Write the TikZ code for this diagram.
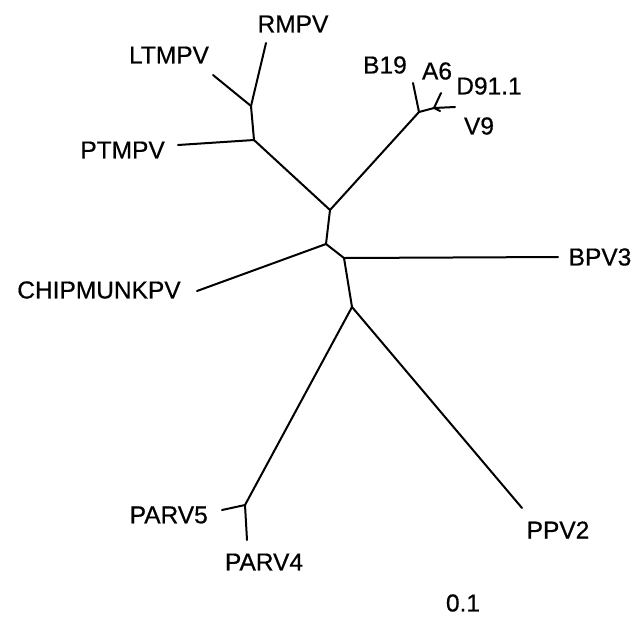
\documentclass[tikz,border=0pt]{standalone}
\usepackage{fontspec}
\setmainfont{Liberation Sans}
\newfontfamily\scanfont[FakeBold=0.6]{Liberation Sans}
\usepackage{tikz}

\begin{document}
\begin{tikzpicture}[x=1pt, y=-1pt,
  branch/.style={line width=2pt, line cap=round, line join=round},
  taxon/.style={inner sep=0pt, font=\scanfont\fontsize{24.5}{28}\selectfont}]
\useasboundingbox (0,0) rectangle (639,630);

% internal nodes of the tree
\coordinate (nA) at (251,106);
\coordinate (nB) at (254,140);
\coordinate (nC) at (330,210);
\coordinate (nD) at (419,112);
\coordinate (nE) at (434,108);
\coordinate (nF) at (326,244);
\coordinate (nG) at (344,258);
\coordinate (nH) at (352,307);
\coordinate (nI) at (245,505);

% leaf ends
\coordinate (tRMPV) at (266,43);
\coordinate (tLTMPV) at (213,75);
\coordinate (tPTMPV) at (178,145);
\coordinate (tB19) at (413,83);
\coordinate (tA6) at (441,93);
\coordinate (tD91) at (455,107);
\coordinate (tV9) at (440,111);
\coordinate (tCHIP) at (197,291);
\coordinate (tBPV3) at (558,257);
\coordinate (tPARV5) at (222,510);
\coordinate (tPARV4) at (247,540);
\coordinate (tPPV2) at (522,508);

% branches
\draw[branch] (nA) -- (tRMPV);
\draw[branch] (nA) -- (tLTMPV);
\draw[branch] (nA) -- (nB);
\draw[branch] (nB) -- (tPTMPV);
\draw[branch] (nB) -- (nC);
\draw[branch] (nC) -- (nD);
\draw[branch] (nD) -- (tB19);
\draw[branch] (nD) -- (nE);
\draw[branch] (nE) -- (tA6);
\draw[branch] (nE) -- (tD91);
\draw[branch] (nE) -- (tV9);
\draw[branch] (nC) -- (nF);
\draw[branch] (nF) -- (tCHIP);
\draw[branch] (nF) -- (nG);
\draw[branch] (nG) -- (tBPV3);
\draw[branch] (nG) -- (nH);
\draw[branch] (nH) -- (nI);
\draw[branch] (nI) -- (tPARV5);
\draw[branch] (nI) -- (tPARV4);
\draw[branch] (nH) -- (tPPV2);

% labels
\node[taxon] (lRMPV) at (293,24) {RMPV};
\node[taxon] (lLTMPV) at (169,55) {LTMPV};
\node[taxon, anchor=east] (lPTMPV) at (165,150) {PTMPV};
\node[taxon] (lB19) at (385,65) {B19};
\node[taxon] (lA6) at (437,71) {A6};
\node[taxon] (lD91) at (489,86) {D91.1};
\node[taxon] (lV9) at (479,126) {V9};
\node[taxon] (lCHIP) at (99,290) {CHIPMUNKPV};
\node[taxon] (lBPV3) at (600,257) {BPV3};
\node[taxon, anchor=east] (lPARV5) at (208,515) {PARV5};
\node[taxon] (lPARV4) at (264,562) {PARV4};
\node[taxon] (lPPV2) at (558,530) {PPV2};
\node[taxon] (lscale) at (463,603) {0.1};
\end{tikzpicture}
\end{document}
